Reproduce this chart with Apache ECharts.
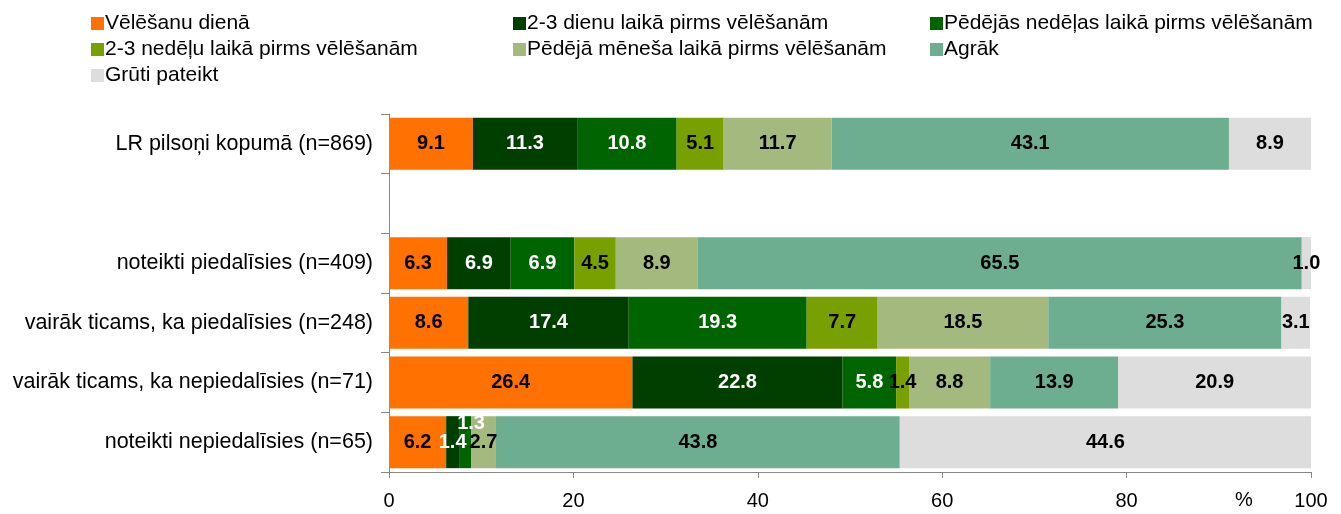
<!DOCTYPE html>
<html>
<head>
<meta charset="utf-8">
<script src="https://cdn.jsdelivr.net/npm/echarts@6/dist/echarts.min.js"></script>
<style>
  html, body { margin: 0; padding: 0; background: #fff; }
  #chart { width: 1341px; height: 514px; }
</style>
</head>
<body>
<div id="chart"></div>
<script>
// rindas (tukšā rinda atdala kopējo no grupām)
const categories = [
  'LR pilsoņi kopumā (n=869)',
  '',
  'noteikti piedalīsies (n=409)',
  'vairāk ticams, ka piedalīsies (n=248)',
  'vairāk ticams, ka nepiedalīsies (n=71)',
  'noteikti nepiedalīsies (n=65)'
]
const seriesNames = [
  'Vēlēšanu dienā',
  '2-3 dienu laikā pirms vēlēšanām',
  'Pēdējās nedēļas laikā pirms vēlēšanām',
  '2-3 nedēļu laikā pirms vēlēšanām',
  'Pēdējā mēneša laikā pirms vēlēšanām',
  'Agrāk',
  'Grūti pateikt'
]
const velesanuDiena = [9.1, null, 6.3, 8.6, 26.4, 6.2]
const dienas23 = [11.3, null, 6.9, 17.4, 22.8, 1.4]
const pedejaNedela = [10.8, null, 6.9, 19.3, 5.8, 1.3]
const nedelas23 = [5.1, null, 4.5, 7.7, 1.4, 0]
const pedejaisMenesis = [11.7, null, 8.9, 18.5, 8.8, 2.7]
const agrak = [43.1, null, 65.5, 25.3, 13.9, 43.8]
const gruti = [8.9, null, 1.0, 3.1, 20.9, 44.6]
const xTicks = [0, 20, 40, 60, 80, 100]

const values = [velesanuDiena, dienas23, pedejaNedela, nedelas23, pedejaisMenesis, agrak, gruti]
const colors = ['#FF7100', '#003F00', '#006400', '#78A000', '#A3B97D', '#6DAE91', '#DDDDDD']
const labelColors = ['#000', '#fff', '#fff', '#000', '#000', '#000', '#000']

const font = '"Liberation Sans", Arial, sans-serif'

let chart = echarts.init(document.getElementById('chart'))

const series = seriesNames.map((name, i) => ({
  name: name,
  type: 'bar',
  stack: 'total',
  barWidth: 52,
  itemStyle: { color: colors[i] },
  label: {
    show: true,
    position: 'inside',
    color: labelColors[i],
    fontFamily: font,
    fontSize: 20,
    fontWeight: 'bold',
    formatter: p => (p.value > 0 ? p.value.toFixed(1) : '')
  },
  data: values[i].map((v, j) => {
    if (v === null) return '-'
    // mazā vērtība pēdējā rindā - uzraksts pacelts virs stabiņa
    if (i === 2 && j === 5) return { value: v, label: { offset: [6, -19] } }
    return v
  })
}))

const legendBase = {
  orient: 'vertical',
  top: 8,
  itemWidth: 13,
  itemHeight: 13,
  itemGap: 5,
  icon: 'rect',
  textStyle: { fontFamily: font, fontSize: 21, lineHeight: 21, color: '#000', padding: [0, 0, 0, -4] }
}

chart.setOption({
  animation: false,
  legend: [
    Object.assign({}, legendBase, { left: 86, data: [seriesNames[0], seriesNames[3], seriesNames[6]] }),
    Object.assign({}, legendBase, { left: 508, data: [seriesNames[1], seriesNames[4]] }),
    Object.assign({}, legendBase, { left: 925, data: [seriesNames[2], seriesNames[5]] })
  ],
  grid: { left: 389, right: 30, top: 114, bottom: 42, containLabel: false },
  xAxis: {
    type: 'value',
    min: xTicks[0],
    max: xTicks[xTicks.length - 1],
    interval: 20,
    splitLine: { show: false },
    axisLine: { show: true, lineStyle: { color: '#888', width: 1 } },
    axisTick: { show: true, length: 6, lineStyle: { color: '#888' } },
    axisLabel: { fontFamily: font, fontSize: 20, color: '#000', margin: 19 }
  },
  yAxis: {
    type: 'category',
    inverse: true,
    data: categories,
    axisLine: { show: true, lineStyle: { color: '#888', width: 1 } },
    axisTick: { show: true, length: 8, inside: false, lineStyle: { color: '#888' } },
    axisLabel: { fontFamily: font, fontSize: 21.5, color: '#000', margin: 16 }
  },
  graphic: [
    {
      type: 'text',
      left: 1235,
      top: 490,
      style: { text: '%', fontFamily: font, fontSize: 20, fill: '#000' }
    }
  ],
  series: series
})
</script>
</body>
</html>
